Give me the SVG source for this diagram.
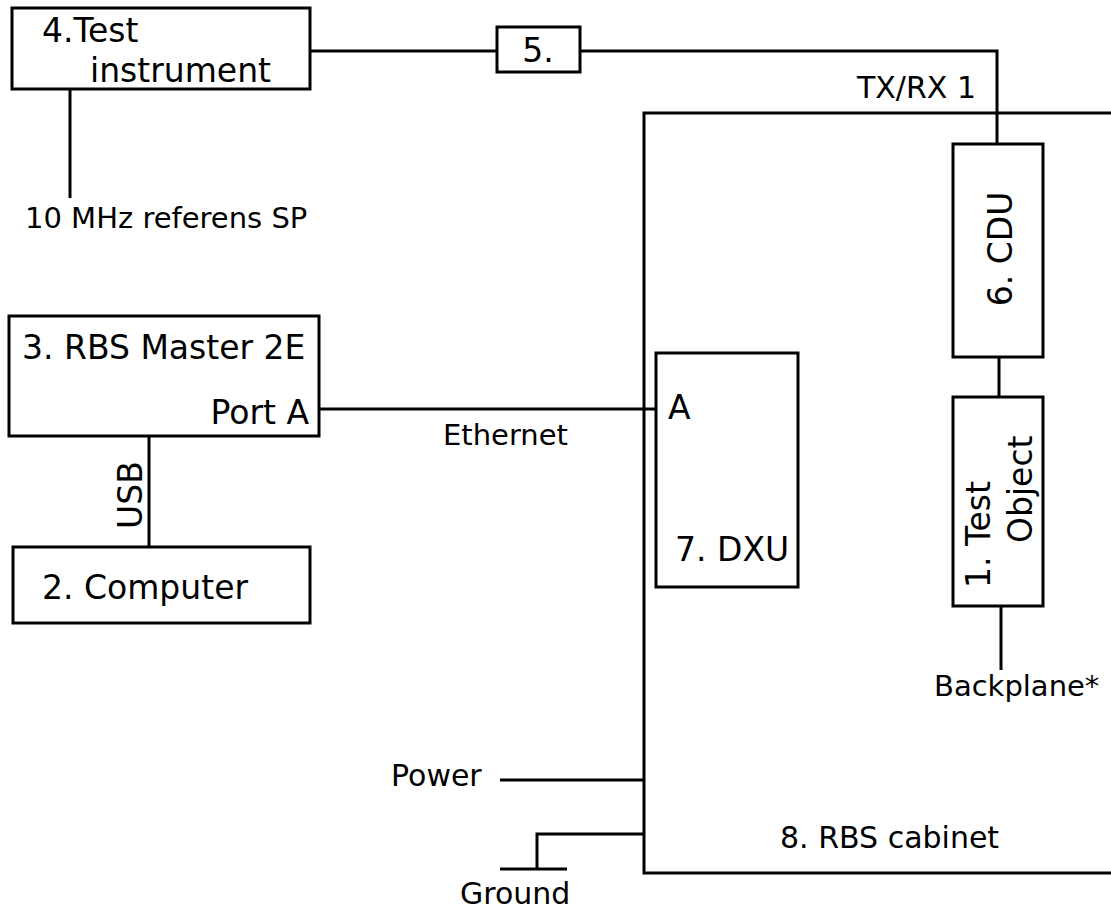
<svg xmlns="http://www.w3.org/2000/svg" width="1111" height="911" viewBox="0 0 1111 911">
<style>
.box{fill:#fff;stroke:#000;stroke-width:3}
.ln{fill:none;stroke:#000;stroke-width:3}
text{font-family:"DejaVu Sans",Verdana,sans-serif;fill:#000}
.big{font-size:33px}
.mid{font-size:30px}
.sm{font-size:29px}
</style>
<rect width="1111" height="911" fill="#fff"/>
<g id="connectors">
<path class="ln" d="M310,51 H497"/>
<path class="ln" d="M580,51 H997 V144"/>
<path class="ln" d="M70,89 V198"/>
<path class="ln" d="M319,409 H656"/>
<path class="ln" d="M149,436 V547"/>
<path class="ln" d="M999,357 V397"/>
<path class="ln" d="M1001,606 V670"/>
<path class="ln" d="M500,780 H644"/>
<path class="ln" d="M644,834 H537 V869"/>
<path class="ln" d="M500,869 H567"/>
<text class="mid" x="976" y="98" text-anchor="end">TX/RX 1</text>
<text class="sm" x="25" y="228">10 MHz referens SP</text>
<text class="sm" x="443" y="445">Ethernet</text>
<text class="big" transform="translate(142,495) rotate(-90)" text-anchor="middle">USB</text>
<text class="sm" x="934" y="696">Backplane*</text>
<text class="mid" x="391" y="786">Power</text>
<text class="mid" x="460" y="904">Ground</text>
</g>
<g id="cabinet">
<path class="ln" d="M1111,113 H644 V873 H1111"/>
<text class="mid" x="780" y="848">8. RBS cabinet</text>
</g>
<g id="test-instrument">
<rect class="box" x="12" y="8" width="298" height="81"/>
<text class="big" x="42" y="42">4.Test</text>
<text class="big" x="90" y="82">instrument</text>
</g>
<g id="box5">
<rect class="box" x="497" y="27" width="83" height="45"/>
<text class="big" x="538" y="62" text-anchor="middle">5.</text>
</g>
<g id="rbs-master">
<rect class="box" x="9" y="316" width="310" height="120"/>
<text class="big" x="22" y="359">3. RBS Master 2E</text>
<text class="big" x="309" y="424" text-anchor="end">Port A</text>
</g>
<g id="computer">
<rect class="box" x="13" y="547" width="297" height="76"/>
<text class="big" x="42" y="599">2. Computer</text>
</g>
<g id="dxu">
<rect class="box" x="656" y="353" width="142" height="234"/>
<text class="big" x="668" y="419">A</text>
<text class="big" x="675" y="561">7. DXU</text>
</g>
<g id="cdu">
<rect class="box" x="953" y="144" width="90" height="213"/>
<text class="big" transform="translate(1012,249) rotate(-90)" text-anchor="middle">6. CDU</text>
</g>
<g id="test-object">
<rect class="box" x="953" y="397" width="90" height="209"/>
<text class="big" transform="translate(990,588) rotate(-90)">1. Test</text>
<text class="big" transform="translate(1032,543) rotate(-90)">Object</text>
</g>
</svg>
